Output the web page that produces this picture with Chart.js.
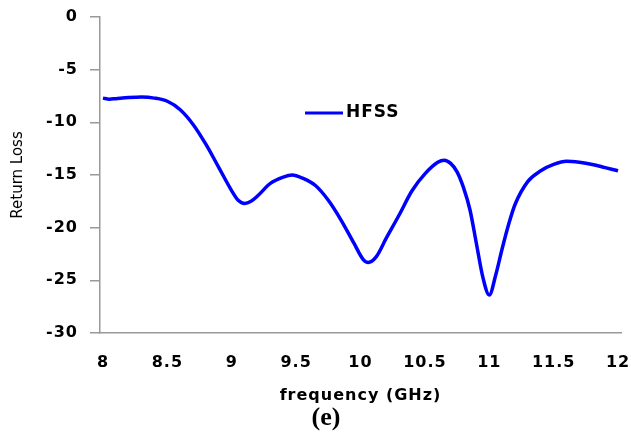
<!DOCTYPE html>
<html>
<head>
<meta charset="utf-8">
<script src="https://cdn.jsdelivr.net/npm/chart.js@4/dist/chart.umd.min.js"></script>
<style>
html, body { margin: 0; padding: 0; background: #fff; }
#wrap { width: 631px; height: 437px; position: relative; }
</style>
</head>
<body>
<div id="wrap"><canvas id="rl"></canvas></div>
<script>
// data
const freqs = [8.00, 8.05, 8.10, 8.20, 8.30, 8.40, 8.50, 8.60, 8.70, 8.80, 8.90, 9.00, 9.05, 9.10, 9.15, 9.20, 9.30, 9.40, 9.47, 9.55, 9.65, 9.75, 9.85, 9.95, 10.02, 10.06, 10.12, 10.20, 10.30, 10.40, 10.50, 10.60, 10.65, 10.70, 10.75, 10.80, 10.85, 10.90, 10.95, 11.00, 11.05, 11.10, 11.15, 11.20, 11.30, 11.40, 11.50, 11.60, 11.70, 11.80, 11.90, 12.00];
const returnLoss = [-7.7, -7.8, -7.75, -7.65, -7.6, -7.7, -8.0, -8.8, -10.2, -12.1, -14.3, -16.5, -17.4, -17.7, -17.5, -17.0, -15.8, -15.2, -15.0, -15.3, -16.0, -17.4, -19.3, -21.5, -23.0, -23.3, -22.8, -21.0, -18.8, -16.5, -14.9, -13.8, -13.6, -13.9, -14.7, -16.2, -18.3, -21.5, -24.7, -26.4, -24.5, -22.0, -19.7, -17.8, -15.6, -14.6, -14.0, -13.7, -13.8, -14.0, -14.3, -14.6];
const xTicks = [8, 8.5, 9, 9.5, 10, 10.5, 11, 11.5, 12];
const yTicks = [0, -5, -10, -15, -20, -25, -30];

const tickFont = { family: 'DejaVu Sans', weight: 'bold', size: 16 };

// the original text is drawn wide, so space letters out a little
const spacing = {
  id: 'spacing',
  beforeLayout(chart) { chart.ctx.letterSpacing = '1px'; },
  beforeDraw(chart) { chart.ctx.letterSpacing = '1px'; }
};

// legend sits inside the plot, so draw it by hand (plus y title and caption)
const extraText = {
  id: 'extraText',
  afterDraw(chart) {
    const ctx = chart.ctx;
    const ds = chart.data.datasets[0];
    const area = chart.chartArea;
    ctx.save();
    ctx.strokeStyle = ds.borderColor;
    ctx.lineWidth = 3;
    ctx.beginPath();
    ctx.moveTo(305, 113);
    ctx.lineTo(343, 113);
    ctx.stroke();
    ctx.fillStyle = '#000';
    ctx.font = 'bold 17px "DejaVu Sans"';
    ctx.textBaseline = 'middle';
    ctx.fillText(ds.label, 346, 113);

    // y axis title
    ctx.letterSpacing = '0px';
    ctx.save();
    ctx.translate(18, (area.top + area.bottom) / 2);
    ctx.rotate(-Math.PI / 2);
    ctx.textAlign = 'center';
    ctx.font = '15px "DejaVu Sans"';
    ctx.fillText('Return Loss', 0, 0);
    ctx.restore();

    // panel caption
    ctx.font = 'bold 26px "Liberation Serif"';
    ctx.textAlign = 'center';
    ctx.fillText('(e)', 326, 418);
    ctx.restore();
  }
};

new Chart(document.getElementById('rl'), {
  type: 'line',
  data: {
    datasets: [{
      label: 'HFSS',
      data: freqs.map((f, i) => ({ x: f, y: returnLoss[i] })),
      borderColor: '#0000ff',
      borderWidth: 3.5,
      pointRadius: 0,
      fill: false,
      cubicInterpolationMode: 'monotone'
    }]
  },
  options: {
    responsive: true,
    maintainAspectRatio: false,
    animation: false,
    layout: { padding: { top: 17, right: 10, bottom: 29, left: 0 } },
    plugins: {
      legend: { display: false },
      tooltip: { enabled: false }
    },
    scales: {
      x: {
        type: 'linear',
        min: 7.977,
        max: 12.023,
        afterBuildTicks: s => { s.ticks = xTicks.map(v => ({ value: v })); },
        afterFit: s => { s.height = 75; s.paddingLeft = 0; s.paddingRight = 0; },
        grid: { display: false, drawTicks: false },
        border: { display: true, color: '#999', width: 1.5 },
        ticks: { color: '#000', font: tickFont, padding: 20, maxRotation: 0, autoSkip: false, callback: v => String(v) },
        title: {
          display: true,
          text: 'frequency (GHz)',
          color: '#000',
          font: { family: 'DejaVu Sans', weight: 'bold', size: 16 },
          padding: { top: 0, bottom: 3 }
        }
      },
      y: {
        min: -30,
        max: 0,
        afterBuildTicks: s => { s.ticks = yTicks.map(v => ({ value: v })); },
        afterFit: s => { s.width = 100; s.paddingTop = 0; s.paddingBottom = 0; },
        grid: { display: true, drawOnChartArea: false, tickLength: 10, color: '#999', lineWidth: 1.5 },
        border: { display: true, color: '#999', width: 1.5 },
        ticks: { color: '#000', font: tickFont, padding: 12, callback: v => String(v) },
        title: { display: false }
      }
    }
  },
  plugins: [spacing, extraText]
});
</script>
</body>
</html>
